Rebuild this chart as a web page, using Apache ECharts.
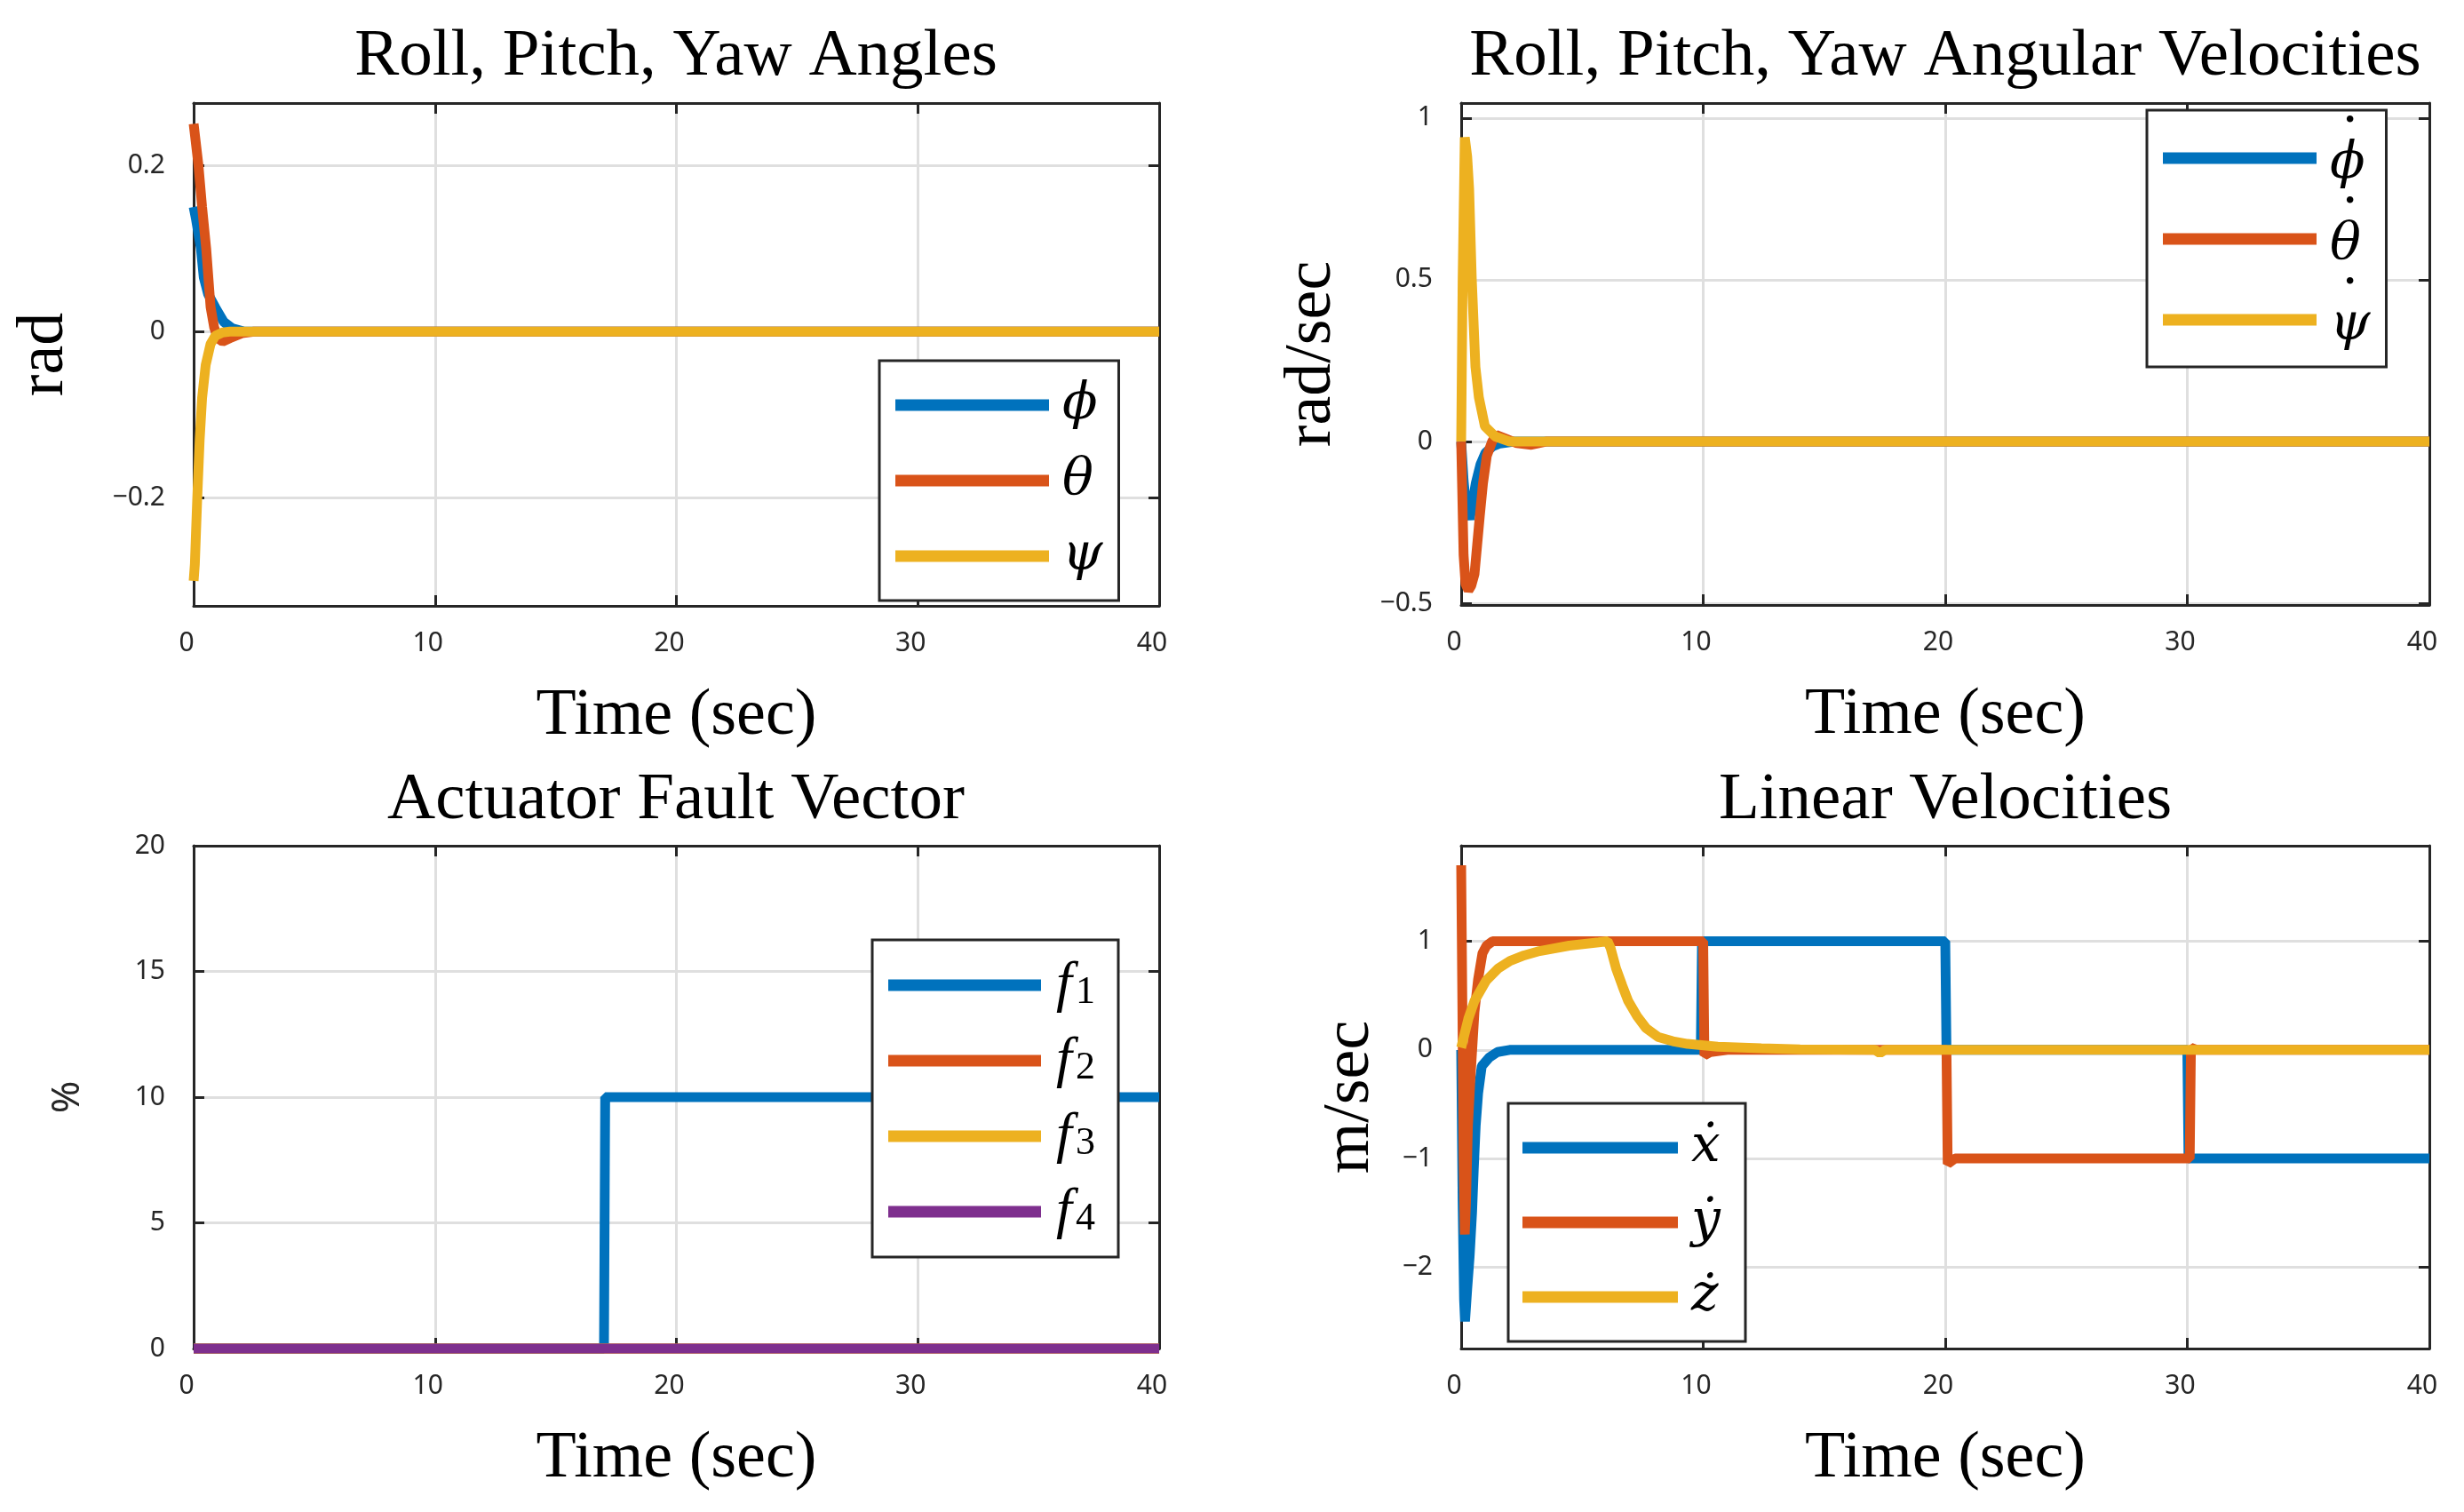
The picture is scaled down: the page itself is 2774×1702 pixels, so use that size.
<!DOCTYPE html>
<html><head><meta charset="utf-8">
<script src="https://cdn.jsdelivr.net/npm/echarts@6/dist/echarts.min.js"></script>
<style>html,body{margin:0;padding:0;background:#fff}#c{width:2774px;height:1702px}</style>
</head><body><div id="c"></div>
<script>
// ---------- Data ----------
// Roll, Pitch, Yaw Angles
const tPhi   = [0, 0.1, 0.3, 0.42, 0.6, 0.9, 1.24, 1.6, 2.1, 40];
const phi    = [0.15, 0.135, 0.1, 0.065, 0.045, 0.029, 0.012, 0.004, 0, 0];
const tTheta = [0, 0.05, 0.2, 0.35, 0.52, 0.7, 0.85, 1.0, 1.2, 1.5, 2.0, 2.5, 40];
const theta  = [0.25, 0.25, 0.2, 0.15, 0.1, 0.03, 0.005, -0.008, -0.012, -0.008, -0.002, 0, 0];
const tPsi   = [0, 0.05, 0.1, 0.15, 0.25, 0.35, 0.5, 0.7, 0.9, 1.2, 1.5, 40];
const psi    = [-0.30, -0.28, -0.24, -0.20, -0.13, -0.08, -0.04, -0.015, -0.005, -0.001, 0, 0];
// Roll, Pitch, Yaw Angular Velocities
const tPhiDot   = [0, 0.1, 0.2, 0.35, 0.45, 0.6, 0.8, 1.0, 1.3, 1.6, 2.2, 40];
const phiDot    = [0, -0.12, -0.2, -0.24, -0.2, -0.13, -0.07, -0.035, -0.015, -0.006, 0, 0];
const tThetaDot = [0, 0.04, 0.1, 0.18, 0.3, 0.42, 0.55, 0.66, 0.77, 0.9, 1.06, 1.28, 1.45, 1.8, 2.3, 2.9, 3.5, 40];
const thetaDot  = [0, -0.14, -0.35, -0.44, -0.46, -0.445, -0.41, -0.32, -0.23, -0.13, -0.044, 0, 0.02, 0.01, -0.005, -0.01, 0, 0];
const tPsiDot   = [0, 0.06, 0.15, 0.25, 0.33, 0.44, 0.59, 0.73, 0.98, 1.4, 2.0, 40];
const psiDot    = [0, 0.5, 0.94, 0.88, 0.78, 0.5, 0.23, 0.137, 0.047, 0.016, 0, 0];
// Actuator Fault Vector
const tF1 = [0, 17, 17.05, 40];
const f1  = [0, 0, 10, 10];
const tF2 = [0, 40];
const f2  = [0, 0];
const tF3 = [0, 40];
const f3  = [0, 0];
const tF4 = [0, 40];
const f4  = [0, 0];
// Linear Velocities
const tXDot = [0, 0.06, 0.12, 0.16, 0.25, 0.35, 0.45, 0.52, 0.6, 0.7, 0.85, 1.16, 1.5, 2.0, 9.9, 9.95, 20.0, 20.05, 30.0, 30.05, 40];
const xDot  = [0, -1.4, -2.3, -2.5, -2.2, -1.9, -1.5, -1.1, -0.7, -0.4, -0.15, -0.07, -0.02, 0, 0, 1, 1, 0, 0, -1, -1];
const tYDot = [0, 0.05, 0.1, 0.15, 0.2, 0.28, 0.4, 0.55, 0.7, 0.88, 1.05, 1.3, 1.6, 10.0, 10.05, 10.3, 11, 20.05, 20.1, 20.4, 30.1, 30.15, 30.4, 40];
const yDot  = [1.7, 0.4, -1.0, -1.7, -1.4, -0.7, -0.2, 0.35, 0.65, 0.89, 0.96, 1.0, 1.0, 1.0, -0.05, -0.02, 0, 0, -1.05, -1, -1, 0.02, 0, 0];
const tZDot = [0, 0.3, 0.55, 1.04, 1.53, 2.02, 2.6, 3.24, 4.46, 5.68, 6.05, 6.17, 6.4, 6.66, 6.9, 7.27, 7.64, 8.13, 8.74, 9.35, 10.6, 12.4, 14, 17.1, 17.3, 17.5, 40];
const zDot  = [0.02, 0.29, 0.45, 0.64, 0.75, 0.82, 0.87, 0.91, 0.96, 0.99, 1.0, 0.94, 0.75, 0.59, 0.45, 0.31, 0.2, 0.12, 0.08, 0.055, 0.03, 0.015, 0.005, 0, -0.03, 0, 0];

// Axis ranges / ticks
const xTicks = {min: 0, max: 40, step: 10};
const yTL = {min: -0.33, max: 0.275, step: 0.2};
const yTR = {min: -0.505, max: 1.046, step: 0.5};
const yBL = {min: 0, max: 20, step: 5};
const yBR = {min: -2.75, max: 1.88, step: 1};

const titles = ['Roll, Pitch, Yaw Angles', 'Roll, Pitch, Yaw Angular Velocities', 'Actuator Fault Vector', 'Linear Velocities'];
const yNames = ['rad', 'rad/sec', '%', 'm/sec'];
const xName = 'Time (sec)';

// ---------- Styling ----------
const C = ['#0072BD', '#D95319', '#EDB120', '#7E2F8E'];
const AX = '#262626';
const GRIDC = '#dfdfdf';
const SERIF = 'Liberation Serif';
const SANS = 'Noto Sans';

const grids = [
  {left: 218, top: 116, width: 1087, height: 566},
  {left: 1645, top: 116, width: 1090, height: 565},
  {left: 218, top: 952, width: 1087, height: 566},
  {left: 1645, top: 952, width: 1090, height: 566}
].map(g => Object.assign({outerBoundsMode: 'none', containLabel: false}, g));

function fmt(v) {
  const r = Math.round(v * 1000) / 1000;
  return (r < 0 ? '\u2212' : '') + Math.abs(r);
}
function pairs(t, v) { return t.map((x, i) => [x, v[i]]); }

const xAxes = [], yAxes = [];
for (let g = 0; g < 4; g++) {
  xAxes.push({
    gridIndex: g, type: 'value', position: 'bottom',
    min: xTicks.min, max: xTicks.max, interval: xTicks.step,
    axisLine: {show: true, onZero: false, lineStyle: {color: AX, width: 3}},
    axisTick: {show: true, inside: true, length: 12, lineStyle: {color: AX, width: 3}},
    axisLabel: {show: true, margin: 27, fontFamily: SANS, fontSize: 30, lineHeight: 30, color: AX, padding: [0, 16, 0, 0], formatter: fmt},
    splitLine: {show: true, lineStyle: {color: GRIDC, width: 3}},
    name: xName, nameLocation: 'middle', nameGap: 88,
    nameTextStyle: {fontFamily: SERIF, fontSize: 74, lineHeight: 74, color: '#000'}
  });
}
for (let g = 0; g < 4; g++) {
  xAxes.push({
    gridIndex: g, type: 'value', position: 'top',
    min: xTicks.min, max: xTicks.max, interval: xTicks.step,
    axisLine: {show: true, onZero: false, lineStyle: {color: AX, width: 3}},
    axisTick: {show: true, inside: true, length: 12, lineStyle: {color: AX, width: 3}},
    axisLabel: {show: false}, splitLine: {show: false}
  });
}
const yR = [yTL, yTR, yBL, yBR];
const yNameStyle = [
  {fontFamily: SERIF, fontSize: 74, lineHeight: 74, color: '#000'},
  {fontFamily: SERIF, fontSize: 74, lineHeight: 74, color: '#000'},
  {fontFamily: SANS, fontSize: 44, lineHeight: 44, color: AX},
  {fontFamily: SERIF, fontSize: 74, lineHeight: 74, color: '#000'}
];
const yNameGap = [130, 130, 120, 87];
function yRange(r) {
  const aligned = Math.abs(r.min / r.step - Math.round(r.min / r.step)) < 1e-9 &&
                  Math.abs(r.max / r.step - Math.round(r.max / r.step)) < 1e-9;
  return aligned ? {min: r.min, max: r.max, interval: r.step}
                 : {min: r.min, max: r.max, minInterval: r.step, maxInterval: r.step};
}
for (let side = 0; side < 2; side++) {
  for (let g = 0; g < 4; g++) {
    const r = yR[g];
    const base = Object.assign({
      gridIndex: g, type: 'value', position: side === 0 ? 'left' : 'right',
      axisLine: {show: true, onZero: false, lineStyle: {color: AX, width: 3}},
      axisTick: {show: true, inside: true, length: 12, lineStyle: {color: AX, width: 3}}
    }, yRange(r));
    if (side === 0) {
      base.axisLabel = {show: true, margin: 32, fontFamily: SANS, fontSize: 30, lineHeight: 30, color: AX,
        padding: [0, 0, 12, 0], formatter: fmt, showMinLabel: g === 2, showMaxLabel: g === 2};
      base.splitLine = {show: true, lineStyle: {color: GRIDC, width: 3}};
      base.name = yNames[g];
      base.nameLocation = 'middle';
      base.nameGap = yNameGap[g];
      base.nameTextStyle = yNameStyle[g];
    } else {
      base.axisLabel = {show: false};
      base.splitLine = {show: false};
    }
    yAxes.push(base);
  }
}

function line(name, g, t, v, color) {
  return {
    name, type: 'line', xAxisIndex: g, yAxisIndex: g,
    data: pairs(t, v), showSymbol: false, symbol: 'none', clip: false,
    lineStyle: {color, width: 11}, itemStyle: {color},
    emphasis: {disabled: true}, animation: false
  };
}
const series = [
  line('phi', 0, tPhi, phi, C[0]),
  line('theta', 0, tTheta, theta, C[1]),
  line('psi', 0, tPsi, psi, C[2]),
  line('phidot', 1, tPhiDot, phiDot, C[0]),
  line('thetadot', 1, tThetaDot, thetaDot, C[1]),
  line('psidot', 1, tPsiDot, psiDot, C[2]),
  line('f1', 2, tF1, f1, C[0]),
  line('f2', 2, tF2, f2, C[1]),
  line('f3', 2, tF3, f3, C[2]),
  line('f4', 2, tF4, f4, C[3]),
  line('xdot', 3, tXDot, xDot, C[0]),
  line('ydot', 3, tYDot, yDot, C[1]),
  line('zdot', 3, tZDot, zDot, C[2])
];

const DOT = '{d|\u2022}';
const LBL = {
  phi: '{g|\u03D5}', theta: '{g|\u03B8}', psi: '{g|\u03C8}',
  phidot: '{h|\u03D5}' + DOT, thetadot: '{h|\u03B8}' + DOT, psidot: '{h|\u03C8}' + DOT,
  f1: '{f|f}{s|1}', f2: '{f|f}{s|2}', f3: '{f|f}{s|3}', f4: '{f|f}{s|4}',
  xdot: '{g|\u1E8B}', ydot: '{g|\u1E8F}', zdot: '{g|\u017C}'
};
const GF = {fontFamily: 'DejaVu Serif', fontStyle: 'italic', fontSize: 58, color: '#000'};
const richStyle = {
  g: Object.assign({lineHeight: 60, width: 45, padding: [0, 0, 0, 10]}, GF),
  h: Object.assign({lineHeight: 60, width: 45, padding: [7, 0, -7, 10]}, GF),
  d: {fontFamily: 'DejaVu Serif', fontSize: 26, lineHeight: 60, width: 1, padding: [-41, 29, 41, -30], color: '#000'},
  f: {fontFamily: SERIF, fontStyle: 'italic', fontSize: 64, lineHeight: 60, width: 22, padding: [0, 0, 0, 12], color: '#000'},
  s: {fontFamily: SERIF, fontSize: 44, lineHeight: 28, width: 32, verticalAlign: 'bottom', color: '#000'}
};
function legend(data, left, top, pad, gap, iw) {
  return {
    orient: 'vertical', left, top, padding: pad, itemGap: gap,
    itemWidth: iw, itemHeight: 13, icon: 'rect', selectedMode: false,
    backgroundColor: '#fff', borderColor: AX, borderWidth: 3, borderRadius: 0,
    data, formatter: n => LBL[n],
    textStyle: {rich: richStyle}
  };
}
const legends = [
  legend(['phi', 'theta', 'psi'], 990, 406, [21, 18, 21, 18], 27, 173),
  legend(['phidot', 'thetadot', 'psidot'], 2417, 124, [0, 18, 17, 18], 1, 173),
  legend(['f1', 'f2', 'f3', 'f4'], 982, 1058, [19, 16, 19, 18], 21, 172),
  legend(['xdot', 'ydot', 'zdot'], 1698, 1242, [21, 16, 21, 16], 26, 175)
];

const titleCenters = [[761, 27], [2190, 27], [761, 864], [2190, 864]];
const titleOpts = titles.map((t, i) => ({
  text: t, left: titleCenters[i][0], top: titleCenters[i][1], padding: 0,
  textAlign: 'center', textVerticalAlign: 'top',
  textStyle: {fontFamily: SERIF, fontSize: 75, lineHeight: 75, fontWeight: 'normal', color: '#000'}
}));

const chart = echarts.init(document.getElementById('c'), null, {renderer: 'canvas', width: 2774, height: 1702});
chart.setOption({
  animation: false,
  backgroundColor: '#fff',
  title: titleOpts,
  grid: grids,
  xAxis: xAxes,
  yAxis: yAxes,
  legend: legends,
  series
});
</script></body></html>
